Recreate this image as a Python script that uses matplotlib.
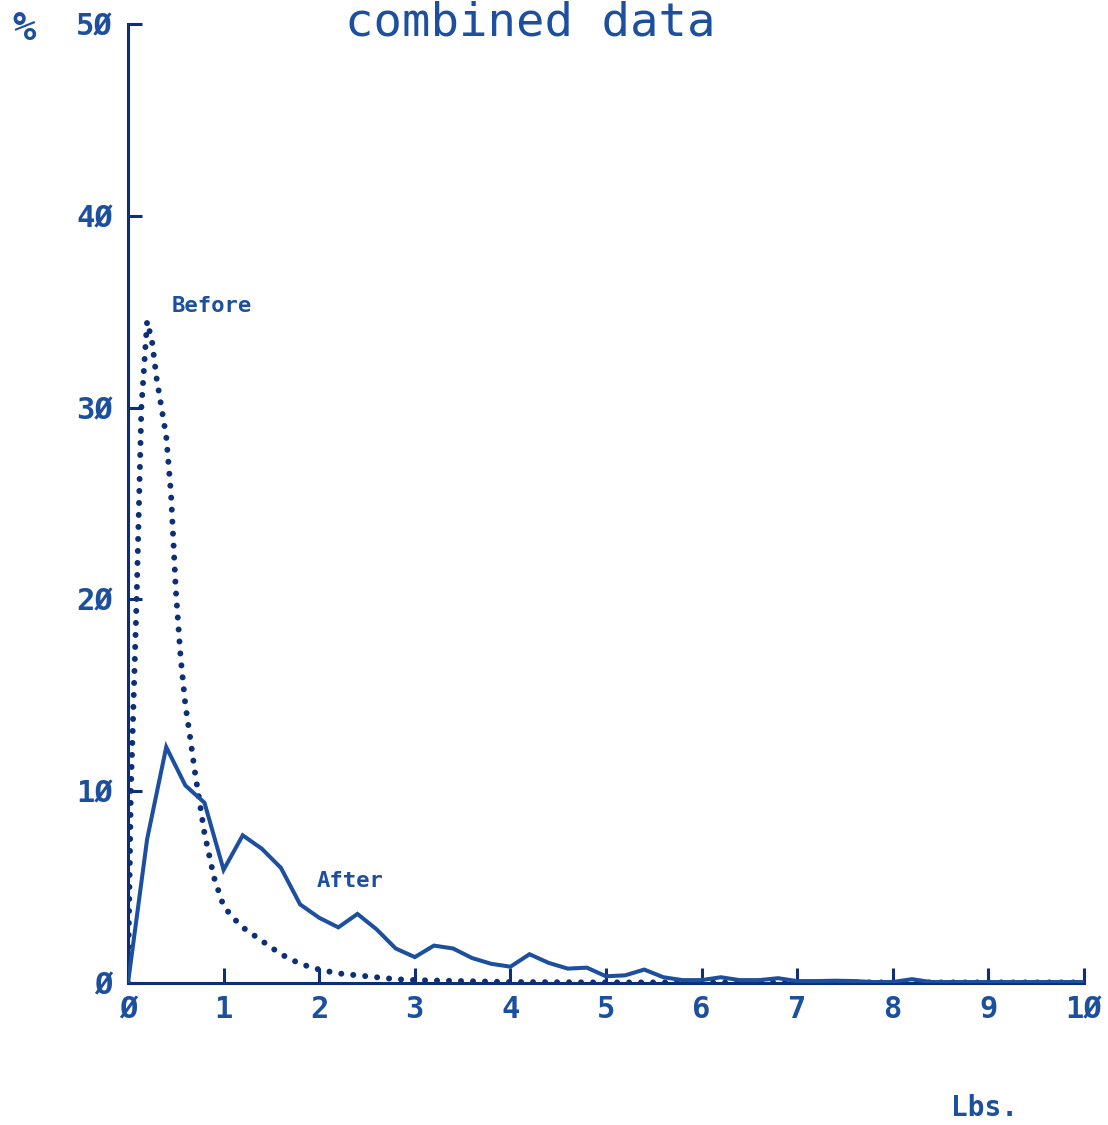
import matplotlib
matplotlib.use("Agg")
import matplotlib.pyplot as plt

# ---- data ----
after_x = [0, 0.2, 0.4, 0.6, 0.8, 1.0, 1.2, 1.4, 1.6, 1.8, 2.0, 2.2, 2.4, 2.6, 2.8,
           3.0, 3.2, 3.4, 3.6, 3.8, 4.0, 4.2, 4.4, 4.6, 4.8, 5.0, 5.2, 5.4, 5.6, 5.8,
           6.0, 6.2, 6.4, 6.6, 6.8, 7.0, 7.2, 7.4, 7.6, 7.8, 8.0, 8.2, 8.4, 8.6, 8.8,
           9.0, 9.2, 9.4, 9.6, 9.8, 10.0]
after_y = [0, 7.5, 12.3, 10.3, 9.4, 5.9, 7.7, 7.0, 6.0, 4.1, 3.4, 2.9, 3.6, 2.8, 1.8,
           1.35, 1.95, 1.8, 1.3, 1.0, 0.85, 1.5, 1.05, 0.75, 0.8, 0.35, 0.4, 0.7, 0.3, 0.15,
           0.15, 0.3, 0.15, 0.15, 0.25, 0.1, 0.1, 0.12, 0.1, 0.05, 0.05, 0.2, 0.05, 0.05, 0.05,
           0.05, 0.05, 0.05, 0.05, 0.05, 0.05]

before_x = [0, 0.03, 0.09, 0.14, 0.2, 0.25, 0.3, 0.35, 0.4, 0.45, 0.5, 0.55, 0.6, 0.65,
            0.7, 0.75, 0.8, 0.9, 1.0, 1.1, 1.2, 1.4, 1.6, 1.8, 2.0, 2.2, 2.4, 2.6, 2.8,
            3.0, 3.5, 4.0, 5.0, 6.0, 7.0, 8.0, 9.0, 10.0]
before_y = [0, 10, 20, 30, 34.5, 33.5, 31.5, 30, 28.5, 25.5, 20.5, 17, 14.5, 12.8,
            11, 9.4, 7.8, 5.5, 4.0, 3.4, 2.9, 2.2, 1.5, 1.0, 0.7, 0.5, 0.4, 0.3, 0.2,
            0.15, 0.1, 0.05, 0.03, 0.03, 0.03, 0.03, 0.03, 0.03]

x_ticks = [0, 1, 2, 3, 4, 5, 6, 7, 8, 9, 10]
x_labels = ["Ø", "1", "2", "3", "4", "5", "6", "7", "8", "9", "1Ø"]
y_ticks = [0, 10, 20, 30, 40, 50]
y_labels = ["Ø", "1Ø", "2Ø", "3Ø", "4Ø", "5Ø"]

navy = "#0c2f78"
blue = "#1c4f9e"
mono = ["DejaVu Sans Mono", "DejaVu Sans"]

fig = plt.figure(figsize=(11.08, 11.25), dpi=100)
ax = fig.add_axes([128/1108, 142/1125, (1084-128)/1108, (983-24)/1125])

ax.plot(after_x, after_y, color=blue, lw=2.9, solid_joinstyle="miter", zorder=3)
ax.plot(before_x, before_y, color=navy, lw=4.3, linestyle=(0, (0.01, 2.0)),
        dash_capstyle="round", zorder=2)

ax.set_xlim(0, 10)
ax.set_ylim(0, 50)
for s in ["top", "right"]:
    ax.spines[s].set_visible(False)
for s in ["left", "bottom"]:
    ax.spines[s].set_color(navy)
    ax.spines[s].set_linewidth(2.2)

ax.set_xticks(x_ticks)
ax.set_xticklabels(x_labels, fontsize=22, fontweight="bold", color=blue, family=mono)
ax.set_yticks(y_ticks)
ax.set_yticklabels(y_labels, fontsize=22, fontweight="bold", color=blue, family=mono)
ax.tick_params(axis="x", direction="in", length=11, width=2.2, color=navy, pad=9)
ax.tick_params(axis="y", direction="in", length=10, width=2.2, color=navy, pad=11)

fig.text(12/1108, 1 - 29/1125, "%", fontsize=28, fontweight="bold", color=blue,
         family=mono, ha="left", va="center")
fig.text(530/1108, 1 - 1/1125, "combined data", fontsize=34, color=blue,
         family=mono, ha="center", va="top")
fig.text(985/1108, 1 - 1108/1125, "Lbs.", fontsize=20, fontweight="bold", color=blue,
         family=mono, ha="center", va="center")
ax.text(0.46, 35.3, "Before", fontsize=16, fontweight="bold", color=blue,
        family=mono, ha="left", va="center")
ax.text(1.97, 5.3, "After", fontsize=16, fontweight="bold", color=blue,
        family=mono, ha="left", va="center")

fig.savefig("out.png", dpi=100, facecolor="white")
